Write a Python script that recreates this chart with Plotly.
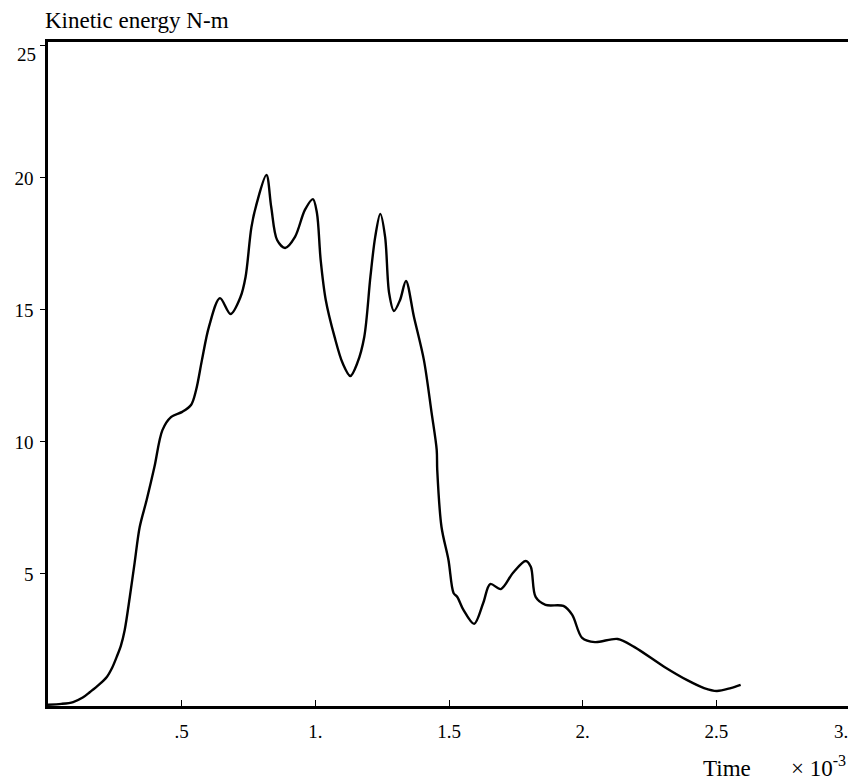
import plotly.graph_objects as go

# Time (x 10^-3 s) and kinetic energy (N-m)
time_ms = [0.0, 0.05, 0.094, 0.130, 0.157, 0.190, 0.220, 0.240, 0.257, 0.273, 0.287,
           0.306, 0.324, 0.343, 0.369,
           0.398, 0.428, 0.461, 0.502, 0.535, 0.554, 0.576, 0.602, 0.643, 0.683,
           0.720, 0.739, 0.761, 0.781, 0.817, 0.835, 0.857, 0.887, 0.924, 0.961,
           0.991, 1.006, 1.020, 1.039, 1.072, 1.102, 1.131, 1.157, 1.183, 1.206,
           1.224, 1.243, 1.261, 1.276, 1.294, 1.317, 1.339, 1.369, 1.406, 1.435,
           1.454, 1.456, 1.472, 1.498, 1.517, 1.531, 1.554, 1.594, 1.628, 1.654,
           1.694, 1.739, 1.787, 1.806, 1.824, 1.861, 1.928, 1.961, 1.998, 2.046,
           2.131, 2.194, 2.306, 2.391, 2.454, 2.502, 2.554, 2.591]
energy = [0.05, 0.08, 0.15, 0.32, 0.53, 0.80, 1.10, 1.45, 1.86, 2.30, 2.88,
          4.13, 5.42, 6.78, 7.80,
          9.05, 10.45, 10.95, 11.14, 11.40, 11.97, 13.11, 14.36, 15.45, 14.85,
          15.49, 16.25, 18.14, 19.05, 20.11, 18.90, 17.65, 17.35, 17.77, 18.79,
          19.20, 18.67, 16.89, 15.38, 13.98, 12.99, 12.50, 12.99, 13.98, 16.25,
          17.77, 18.64, 17.77, 15.64, 14.96, 15.38, 16.10, 14.73, 13.11, 11.10,
          9.70, 8.94, 6.78, 5.53, 4.28, 4.13, 3.64, 3.11, 3.90, 4.62,
          4.43, 5.04, 5.49, 5.27, 4.13, 3.83, 3.79, 3.45, 2.58, 2.42,
          2.54, 2.23, 1.48, 0.98, 0.68, 0.57, 0.68, 0.80]

x_tickvals = [0.5, 1.0, 1.5, 2.0, 2.5, 3.0]
x_ticktext = [".5", "1.", "1.5", "2.", "2.5", "3."]
y_tickvals = [5, 10, 15, 20, 25]
y_ticktext = ["5", "10", "15", "20", "25"]

FONT = "Liberation Serif, Times New Roman, serif"

# the last tick label of each axis is nudged inward in the reference,
# so those two are drawn as annotations at their tick values
x_axis_text = [t if v != x_tickvals[-1] else " " for v, t in zip(x_tickvals, x_ticktext)]
y_axis_text = [t if v != y_tickvals[-1] else " " for v, t in zip(y_tickvals, y_ticktext)]

fig = go.Figure()
fig.add_trace(go.Scatter(
    x=time_ms, y=energy, mode="lines",
    line=dict(color="black", width=2.4, shape="spline", smoothing=0.9),
    showlegend=False, hoverinfo="skip",
))

fig.update_layout(
    width=848, height=773,
    margin=dict(l=40, r=3, t=34, b=75),
    paper_bgcolor="white", plot_bgcolor="white",
    font=dict(family=FONT, size=19, color="black"),
    xaxis=dict(
        range=[0, 3.0], tickvals=x_tickvals, ticktext=x_axis_text,
        ticks="inside", ticklen=6, tickwidth=1, tickcolor="black",
        showline=True, linecolor="black", linewidth=2.5, mirror=True,
        showgrid=False, zeroline=False, ticklabelstandoff=6,
        tickfont=dict(family=FONT, size=19, color="black"),
    ),
    yaxis=dict(
        range=[0, 25.15], tickvals=y_tickvals, ticktext=y_axis_text,
        ticks="outside", ticklen=5, tickwidth=1, tickcolor="black",
        showline=True, linecolor="black", linewidth=2.5, mirror=True,
        showgrid=False, zeroline=False, ticklabelstandoff=3,
        tickfont=dict(family=FONT, size=19, color="black"),
    ),
    annotations=[
        dict(text="Kinetic energy N-m", xref="paper", yref="paper",
             x=0, y=1.0, xanchor="left", yanchor="middle", yshift=22, xshift=-5,
             showarrow=False, font=dict(family=FONT, size=23, color="black")),
        dict(text="Time &nbsp;&nbsp;&nbsp;&nbsp;&nbsp; \u00d7 10<sup>-3</sup>",
             xref="paper", yref="paper",
             x=1.0, y=0, xanchor="right", yanchor="middle", yshift=-60, xshift=-2,
             showarrow=False, font=dict(family=FONT, size=23, color="black")),
        dict(text=y_ticktext[-1], xref="paper", yref="y",
             x=0, y=y_tickvals[-1], xanchor="right", yanchor="middle",
             xshift=-10, yshift=-9,
             showarrow=False, font=dict(family=FONT, size=19, color="black")),
        dict(text=x_ticktext[-1], xref="x", yref="paper",
             x=x_tickvals[-1], y=0, xanchor="center", yanchor="middle",
             xshift=-9, yshift=-25,
             showarrow=False, font=dict(family=FONT, size=19, color="black")),
    ],
)

fig.write_html("out.html")
